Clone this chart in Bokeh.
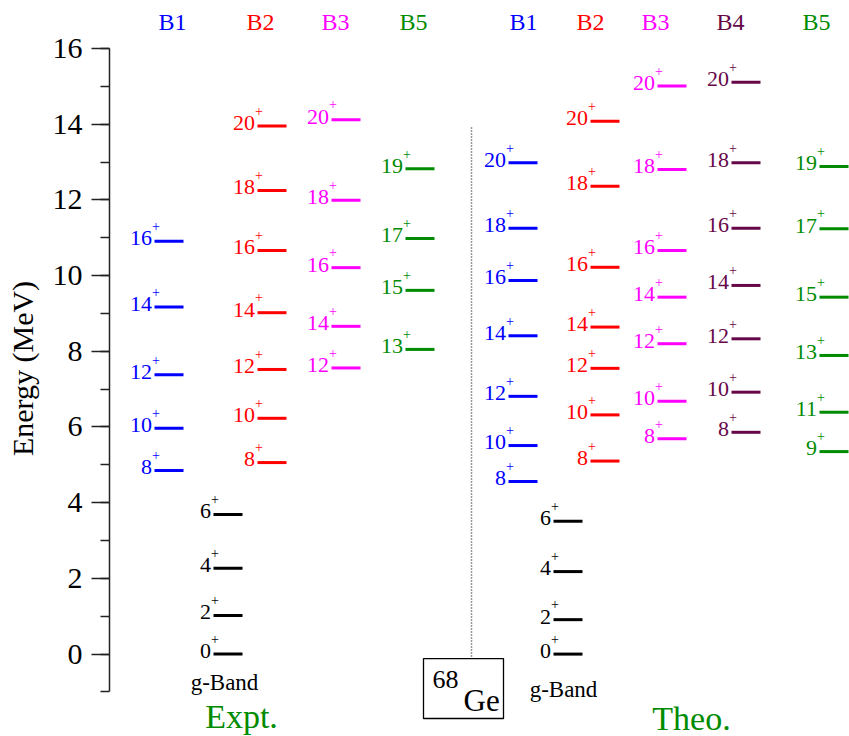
from bokeh.plotting import figure
from bokeh.models import Range1d, SingleIntervalTicker, ColumnDataSource, LinearAxis
from bokeh.embed import file_html
from bokeh.resources import INLINE
from bokeh.core.properties import value

# ---------------- data (energies in MeV) ----------------
expt_B1_spin = [8, 10, 12, 14, 16]
expt_B1_E = [4.85, 5.97, 7.38, 9.17, 10.91]
expt_B2_spin = [8, 10, 12, 14, 16, 18, 20]
expt_B2_E = [5.06, 6.23, 7.52, 9.02, 10.66, 12.25, 13.95]
expt_B3_spin = [12, 14, 16, 18, 20]
expt_B3_E = [7.56, 8.66, 10.21, 11.99, 14.12]
expt_B5_spin = [13, 15, 17, 19]
expt_B5_E = [8.05, 9.61, 10.98, 12.82]
expt_g_spin = [0, 2, 4, 6]
expt_g_E = [0.0, 1.02, 2.27, 3.69]

theo_B1_spin = [8, 10, 12, 14, 16, 18, 20]
theo_B1_E = [4.56, 5.51, 6.81, 8.41, 9.87, 11.25, 12.98]
theo_B2_spin = [8, 10, 12, 14, 16, 18, 20]
theo_B2_E = [5.10, 6.32, 7.55, 8.64, 10.22, 12.36, 14.08]
theo_B3_spin = [8, 10, 12, 14, 16, 18, 20]
theo_B3_E = [5.69, 6.68, 8.20, 9.43, 10.66, 12.80, 15.01]
theo_B4_spin = [8, 10, 12, 14, 16, 18, 20]
theo_B4_E = [5.86, 6.92, 8.33, 9.74, 11.25, 12.98, 15.11]
theo_B5_spin = [9, 11, 13, 15, 17, 19]
theo_B5_E = [5.35, 6.39, 7.89, 9.43, 11.24, 12.88]
theo_g_spin = [0, 2, 4, 6]
theo_g_E = [0.0, 0.91, 2.18, 3.51]

parity = "+"

# ---------------- layout / style ----------------
FONT = "'Liberation Serif'"
W, H = 849, 736
LEFT = 109
Y0, Y1 = -2.177, 17.268
EPP = (Y1 - Y0) / H          # energy per screen pixel
LW = 29                      # level line length (px)


def mid(base_e, fs):
    """energy of the em-box middle for a text whose baseline is at base_e"""
    return base_e + 0.3375 * fs * EPP


BLUE, RED, MAG, GREEN, MAROON, BLACK = "#0000ff", "#ff0000", "#ff00ff", "#008b00", "#670748", "#000000"

bands = [
    # spins, energies, line-start x, colour
    (expt_B1_spin, expt_B1_E, 154, BLUE),
    (expt_B2_spin, expt_B2_E, 257, RED),
    (expt_B3_spin, expt_B3_E, 331, MAG),
    (expt_B5_spin, expt_B5_E, 405, GREEN),
    (expt_g_spin, expt_g_E, 213, BLACK),
    (theo_B1_spin, theo_B1_E, 508, BLUE),
    (theo_B2_spin, theo_B2_E, 590, RED),
    (theo_B3_spin, theo_B3_E, 657, MAG),
    (theo_B4_spin, theo_B4_E, 731, MAROON),
    (theo_B5_spin, theo_B5_E, 819, GREEN),
    (theo_g_spin, theo_g_E, 553, BLACK),
]

headers = [("B1", 172, BLUE), ("B2", 260, RED), ("B3", 335, MAG), ("B5", 413, GREEN),
           ("B1", 523, BLUE), ("B2", 590, RED), ("B3", 655, MAG), ("B4", 730, MAROON),
           ("B5", 816, GREEN)]

p = figure(width=W, height=H, output_backend="svg", toolbar_location=None,
           x_range=Range1d(109, 849), y_range=Range1d(Y0, Y1),
           x_axis_type=None, y_axis_type=None,
           min_border_left=LEFT, min_border_right=0, min_border_top=0, min_border_bottom=0)
p.outline_line_color = None
p.background_fill_color = "white"
p.border_fill_color = "white"

axis = LinearAxis(ticker=SingleIntervalTicker(interval=2, num_minor_ticks=2), bounds=(-1, 16))
axis.axis_label = "Energy (MeV)"
axis.axis_label_text_font = FONT
axis.axis_label_text_font_size = "30px"
axis.axis_label_text_font_style = "normal"
axis.axis_label_text_color = "black"
axis.axis_label_standoff = 11
axis.major_label_text_font = FONT
axis.major_label_text_font_size = "30px"
axis.major_label_text_color = "black"
axis.major_label_standoff = 9
axis.major_tick_out = 18
axis.major_tick_in = 0
axis.minor_tick_out = 9
axis.minor_tick_in = 0
axis.axis_line_width = 1.5
axis.major_tick_line_width = 1.5
axis.minor_tick_line_width = 1.5
axis.axis_line_color = "#222222"
axis.major_tick_line_color = "#222222"
axis.minor_tick_line_color = "#222222"
p.add_layout(axis, "left")

NUM_FS, SUP_FS = 22, 14
for spins, energies, xs, col in bands:
    src = ColumnDataSource(dict(
        x0=[xs] * len(spins), x1=[xs + LW] * len(spins), y=energies,
        num=[str(s) for s in spins], sup=[parity] * len(spins),
        xn=[xs - 2.5] * len(spins), xp=[xs - 2.5] * len(spins),
        yn=[mid(e - 4.3 * EPP, NUM_FS) for e in energies],
        yp=[mid(e + 10.5 * EPP, SUP_FS) for e in energies],
    ))
    p.segment(x0="x0", y0="y", x1="x1", y1="y", source=src, line_color=col, line_width=3)
    p.text(x="xn", y="yn", text="num", source=src, text_color=col, text_font=value(FONT),
           text_font_size=f"{NUM_FS}px", text_align="right", text_baseline="middle")
    p.text(x="xp", y="yp", text="sup", source=src, text_color=col, text_font=value(FONT),
           text_font_size=f"{SUP_FS}px", text_align="left", text_baseline="middle")

hsrc = ColumnDataSource(dict(x=[h[1] for h in headers], y=[mid(16.475, 24)] * len(headers),
                             t=[h[0] for h in headers], c=[h[2] for h in headers]))
p.text(x="x", y="y", text="t", source=hsrc, text_color="c", text_font=value(FONT),
       text_font_size="24px", text_align="center", text_baseline="middle")

# g-Band labels
p.text(x=[224, 563], y=[mid(-0.962, 23), mid(-1.147, 23)], text=["g-Band", "g-Band"],
       text_color=BLACK, text_font=value(FONT), text_font_size="23px",
       text_align="center", text_baseline="middle")

# Expt. / Theo.
p.text(x=[241, 691], y=[mid(-1.95, 34), mid(-2.0, 34)], text=["Expt.", "Theo."],
       text_color=GREEN, text_font=value(FONT), text_font_size="34px",
       text_align="center", text_baseline="middle")

# dotted separator
p.segment(x0=[471], y0=[13.91], x1=[471], y1=[-0.09], line_color="#333333",
          line_width=1.5, line_dash="1 2")

# nucleus box
p.quad(left=[423], right=[503], top=[-0.117], bottom=[-1.702], fill_color=None,
       line_color=BLACK, line_width=1.3)
p.text(x=[432], y=[mid(-0.909, 26)], text=["68"], text_color=BLACK, text_font=value(FONT),
       text_font_size="26px", text_align="left", text_baseline="middle")
p.text(x=[463], y=[mid(-1.49, 31)], text=["Ge"], text_color=BLACK, text_font=value(FONT),
       text_font_size="31px", text_align="left", text_baseline="middle")

open("out.html", "w").write(file_html(p, INLINE))
